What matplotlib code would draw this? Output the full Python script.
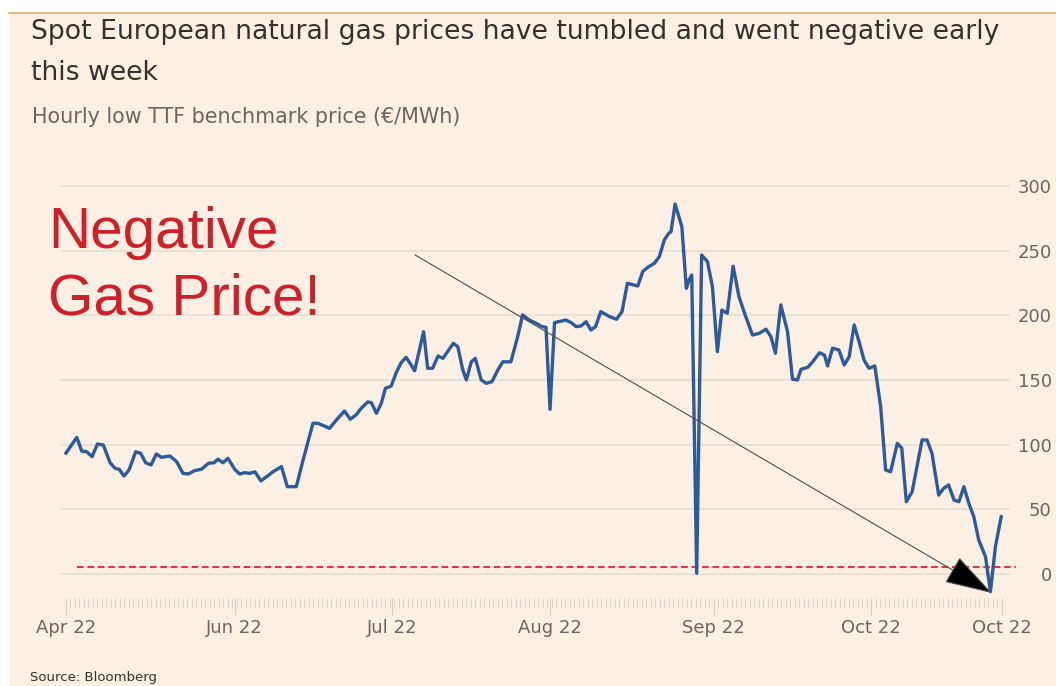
import matplotlib
matplotlib.use('Agg')
import matplotlib.pyplot as plt
from matplotlib.patches import Rectangle
from matplotlib.lines import Line2D

# ---------------- data ----------------
day = [0, 2.4, 3.5, 4.6, 5.8, 7.0, 8.3, 9.8, 10.9, 11.8,
       12.9, 14.0, 15.5, 16.6, 17.7, 18.9, 20.1, 21.2, 23.1, 24.6,
       26.0, 27.2, 28.6, 30.1, 31.7, 32.9, 33.8, 34.9, 36.0, 37.5,
       38.6, 39.7, 40.8, 42.0, 43.3, 44.6, 46.0, 47.9, 49.2, 51.2,
       52.7, 54.9, 56.0, 58.6, 60.1, 61.9, 63.2, 64.5, 65.6, 67.1,
       67.9, 69.0, 70.1, 71.0, 72.3, 73.4, 74.5, 75.6, 76.4, 77.5,
       79.5, 80.4, 81.5, 82.7, 83.8, 86.1, 87.1, 88.2, 89.0, 90.1,
       91.0, 92.3, 93.4, 94.7, 96.0, 97.1, 98.9, 100.4, 101.5, 103.0,
       104.5, 105.8, 106.7, 107.6, 108.6, 111.1, 112.3, 113.4, 114.5, 115.6,
       116.7, 117.7, 118.9, 120.8, 122.4, 123.6, 124.8, 127.1, 128.2, 129.3,
       130.8, 131.9, 133.0, 134.0, 134.5, 135.4, 136.9, 137.9, 138.5, 139.1,
       140.2, 141.3, 142.6, 143.7, 144.8, 145.8, 147.0, 148.3, 149.6, 151.1,
       152.6, 154.1, 155.6, 156.7, 157.7, 158.9, 160.4, 161.5, 162.6, 163.4,
       164.9, 166.0, 167.5, 168.6, 169.3, 170.4, 171.8, 173.0, 174.1, 175.2,
       176.3, 177.4, 178.5, 179.8, 181.1, 182.2, 183.3, 184.8, 185.8, 186.8,
       188.1, 190.3, 191.4, 192.5, 194.0, 195.1, 196.2, 197.4, 198.5, 199.6,
       200.7, 201.8, 202.9, 204.4, 205.5, 206.6, 207.9]

price = [93.5, 105.6, 95, 94.5, 90.7, 100.5, 99.7, 86, 81.7, 81,
         75.7, 80.4, 94.5, 93.3, 86, 84.3, 92.8, 90.2, 91.2, 86.8,
         77.8, 77.3, 79.9, 81, 85.6, 86, 88.7, 86, 89.4, 81,
         77.3, 78.3, 77.8, 79, 72, 75.2, 79, 83, 67.5, 67.5,
         88, 116.5, 116.5, 112.6, 119, 126, 119.6, 123, 128, 133,
         132.4, 124.2, 132, 143.5, 145.3, 155.6, 163.3, 167.5, 163.3, 157.1,
         187.3, 159, 159, 168.5, 166.7, 178.3, 175.7, 157.7, 150, 164,
         166.7, 150, 147.4, 148.7, 157.7, 164, 164, 183.4, 200.2, 196.3,
         193.8, 191.2, 190.7, 127.3, 194.3, 196.3, 194.3, 191.2, 191.7, 195,
         188.6, 191.2, 202.8, 199, 196.9, 202.8, 224.7, 222.6, 233.7, 237,
         240.2, 245.3, 258.2, 263.4, 264.6, 286, 268.5, 220.8, 227.3, 231.1,
         0.5, 246.6, 241.4, 222, 171.8, 204, 201.5, 238, 214.3, 199,
         184.7, 186, 189.2, 183.5, 170.6, 208, 187.3, 150.5, 150, 158.2,
         159.8, 164.1, 171, 169.3, 160.8, 174.5, 173.2, 161.6, 168, 192.5,
         179.6, 165.4, 159, 160.8, 129.3, 80.4, 79, 101, 97.2, 55.9,
         63.6, 103.6, 103.6, 93.3, 61, 66.2, 68.8, 57.2, 55.9, 67.5,
         54.6, 44.3, 26.3, 13.4, -13.7, 21.1, 44.3]

xtick_pos = [0, 37.5, 72.5, 107.5, 144, 179, 208]
xtick_labels = ['Apr 22', 'Jun 22', 'Jul 22', 'Aug 22', 'Sep 22', 'Oct 22', 'Oct 22']
ytick_vals = [0, 50, 100, 150, 200, 250, 300]
zero_line_level = 5.4
arrow_start = (77.6, 246.6)
arrow_tip = (205.8, -14.7)

title_lines = ['Spot European natural gas prices have tumbled and went negative early',
               'this week']
subtitle = 'Hourly low TTF benchmark price (\u20ac/MWh)'
callout = ['Negative', 'Gas Price!']
source = 'Source: Bloomberg'

# ---------------- figure ----------------
W, H = 1056, 686
fig = plt.figure(figsize=(W / 100, H / 100), dpi=100, facecolor='white')
BG = '#fcf0e4'

def fy(y):
    return (H - y) / H

fig.patches.append(Rectangle((9 / W, 0), 1 - 9 / W, (H - 12.5) / H,
                             transform=fig.transFigure, facecolor=BG,
                             edgecolor='none', zorder=-10))
fig.lines.append(Line2D([9 / W, 1], [fy(12.5)] * 2, transform=fig.transFigure,
                        color='#e2ab72', lw=1.2))

ax_left, ax_right, ax_top, ax_bot = 61, 1010, 179.4, 598
ax = fig.add_axes([ax_left / W, fy(ax_bot), (ax_right - ax_left) / W,
                   (ax_bot - ax_top) / H])
ax.set_facecolor('none')
for s in ax.spines.values():
    s.set_visible(False)

ax.set_xlim(-1.11, 209.85)
ax.set_ylim(-18.55, 305)

ax.set_yticks(ytick_vals)
ax.grid(axis='y', color='#e8dfd5', lw=1.3)
ax.set_axisbelow(True)
ax.yaxis.tick_right()
ax.tick_params(axis='y', length=0, pad=30, labelsize=13, labelcolor='#6b6560')
for lab in ax.get_yticklabels():
    lab.set_ha('right')
    lab.set_family('DejaVu Sans')

ax.set_xticks(xtick_pos)
ax.set_xticklabels(xtick_labels)
ax.set_xticks(list(range(0, 208)), minor=True)
ax.tick_params(axis='x', which='major', length=12, width=0.8, color='#d9cfc5',
               pad=3, labelsize=13, labelcolor='#6b6560')
ax.tick_params(axis='x', which='minor', length=7, width=0.7, color='#ddd3c9')

# red reference line
ax.axhline(zero_line_level, xmin=(76.7 - ax_left) / (ax_right - ax_left),
           xmax=(1016 - ax_left) / (ax_right - ax_left), color='#e8343f',
           lw=1.5, dashes=(3.2, 1.8), clip_on=False, zorder=2)

# price line
ax.plot(day, price, color='#2d5a9b', lw=2.4, zorder=3, solid_joinstyle='round')

# arrow
ax.annotate('', xy=arrow_tip, xytext=arrow_start,
            arrowprops=dict(arrowstyle='-|>,head_length=3.1,head_width=0.95',
                            mutation_scale=10, ec='#4d4d4d', fc='black', lw=0.8,
                            shrinkA=0, shrinkB=0),
            annotation_clip=False, zorder=4)

# callout text
fig.text(48 / W, fy(248.3), callout[0], fontsize=42, color='#d01f29',
         family='Liberation Sans', va='baseline')
fig.text(48 / W, fy(315), callout[1], fontsize=42, color='#d01f29',
         family='Liberation Sans', va='baseline')

# titles, fitted to reference widths
renderer = fig.canvas.get_renderer()

def fitted(x, ybase, text, target_w, color, size0):
    t = fig.text(x / W, fy(ybase), text, fontsize=size0, color=color,
                 family='DejaVu Sans', va='baseline')
    w = t.get_window_extent(renderer).width
    t.set_fontsize(size0 * target_w / w)
    return t

t1 = fitted(31, 39.3, title_lines[0], 970, '#33302e', 15)
fs = t1.get_fontsize()
fig.text(31 / W, fy(79.5), title_lines[1], fontsize=fs, color='#33302e',
         family='DejaVu Sans', va='baseline')
fitted(32, 122.7, subtitle, 428, '#6b6560', 11)

fig.text(30 / W, fy(684), source, fontsize=9.5, color='#33302e',
         family='DejaVu Sans', va='bottom')

fig.savefig('out.png', dpi=100, facecolor=fig.get_facecolor())
